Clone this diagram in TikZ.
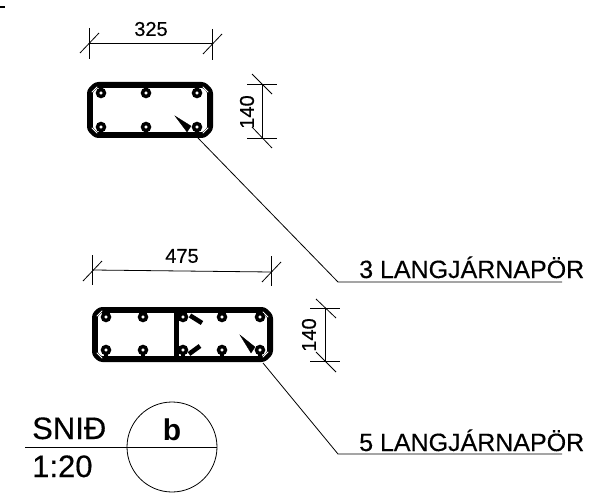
\documentclass[tikz,border=0pt]{standalone}
\usepackage{fontspec}
\setmainfont{Liberation Sans}
\newfontfamily\heavyfont[FakeBold=0.35]{Liberation Sans}
\tikzset{
  stirrup/.style={line width=5.8pt,line join=round,black,rounded corners=2.5pt},
  slit/.style={line width=0.9pt,white,line cap=round},
  rebar/.style={circle,draw=black,line width=3.4pt,fill=white,minimum size=7pt,inner sep=0pt},
  stem/.style={line width=3.4pt,black},
  hook/.style={line width=4.6pt,black},
  dimline/.style={line width=0.8pt,black},
  leader/.style={line width=0.8pt,black},
  wedge/.style={fill=black,draw=black,line width=0.3pt},
  dimtext/.style={font=\heavyfont\fontsize{20}{20}\selectfont,inner sep=0pt},
  notetext/.style={font=\heavyfont\fontsize{25}{25}\selectfont,inner sep=0pt,anchor=base west},
  titletext/.style={font=\heavyfont\fontsize{31}{31}\selectfont,inner sep=0pt,anchor=base west},
}
\begin{document}
\begin{tikzpicture}[x=1pt,y=-1pt]
\useasboundingbox (0,0) rectangle (606,495);
\draw[line width=2pt] (0,7) -- (5,7);

% --- upper section
\draw[stirrup] (96,84.9) -- (204,84.9) -- (210.1,91) -- (210.1,129) -- (204,135.1) -- (96,135.1) -- (89.9,129) -- (89.9,91) -- cycle;
\foreach \a/\b/\c/\d in {92/92/97/87, 203/87/208/92, 92/128/97/133, 203/133/208/128}
  \draw[slit] (\a,\b) -- (\c,\d);
\foreach \x/\y/\s in {101/93/86,146/93/86,197/93/86,101/127/134,146/127/134,197/127/134}{
  \draw[stem] (\x,\y) -- (\x,\s);
  \node[rebar] at (\x,\y) {};
}
\coordinate (tipA) at (175,116);
\fill[wedge] (tipA) -- (191,126) -- (187,132) -- cycle;
\coordinate (legA) at (198,138);
\coordinate (kneeA) at (338,282);
\coordinate (endA) at (562,282);
\draw[leader] (legA) -- (kneeA) -- (endA);
\node[notetext] (noteA) at (359,278) {3 LANGJÁRNAPÖR};

\coordinate (a1) at (89,43);
\coordinate (a2) at (212,43);
\draw[dimline] (a1) -- (a2);
\draw[dimline] (89,28) -- (89,59);
\draw[dimline] (212,29) -- (212,60);
\draw[dimline] (80,53) -- (99,33);
\draw[dimline] (203,54) -- (222,34);
\node[dimtext] (w1) at (151,29) {325};

\draw[dimline] (262,84) -- (262,138);
\draw[dimline] (247,84) -- (277,84);
\draw[dimline] (247,138) -- (277,138);
\draw[dimline] (252,74) -- (272,94);
\draw[dimline] (252,127) -- (272,148);
\node[dimtext,rotate=90] (h1) at (247,112) {140};

% --- lower section
\draw[stirrup] (100,309.9) -- (264,309.9) -- (270.1,316) -- (270.1,353) -- (264,359.1) -- (100,359.1) -- (94.9,354) -- (94.9,315) -- cycle;
\draw[line width=5pt] (176,309) -- (176,360);
\foreach \a/\b/\c/\d in {97/316/102/311, 263/312/268/317, 97/353/102/358, 263/357/268/352}
  \draw[slit] (\a,\b) -- (\c,\d);
\draw[hook] (190,315.5) -- (202,323);
\draw[hook] (189,354) -- (200,346);
\foreach \x/\y/\s in {106/317/311,143/317/311,183/317/311,222/317/311,260/317/311,106/350/358,143/350/358,183/350/358,222/350/358,260/350/358}{
  \draw[stem] (\x,\y) -- (\x,\s);
  \node[rebar] at (\x,\y) {};
}
\coordinate (tipB) at (240,335);
\fill[wedge] (tipB) -- (255,347) -- (251,353) -- cycle;
\coordinate (legB) at (263,363);
\coordinate (kneeB) at (338,454);
\coordinate (endB) at (562,454);
\draw[leader] (legB) -- (kneeB) -- (endB);
\node[notetext] (noteB) at (359,451) {5 LANGJÁRNAPÖR};

\draw[dimline] (93,270) -- (271,272);
\draw[dimline] (92,255) -- (92,285);
\draw[dimline] (271,256) -- (271,286);
\draw[dimline] (83,281) -- (102,261);
\draw[dimline] (262,282) -- (281,262);
\node[dimtext] (w2) at (182,256) {475};

\draw[dimline] (325,308) -- (325,361);
\draw[dimline] (310,308) -- (340,308);
\draw[dimline] (310,361) -- (340,361);
\draw[dimline] (316,299) -- (336,318);
\draw[dimline] (316,352) -- (336,372);
\node[dimtext,rotate=90] (h2) at (309,335) {140};

% --- title
\node[circle,draw,line width=0.8pt,minimum size=90pt,inner sep=0pt] (ring) at (172,447) {};
\coordinate (titleL) at (25,447);
\draw[line width=0.8pt] (titleL) -- (ring.east);
\node[titletext] (snid) at (32,439) {SNIÐ};
\node[titletext] (scale) at (32,477) {1:20};
\node[font=\fontsize{30}{30}\selectfont\bfseries,inner sep=0pt,anchor=base] (bb) at (172,440) {b};
\end{tikzpicture}
\end{document}
